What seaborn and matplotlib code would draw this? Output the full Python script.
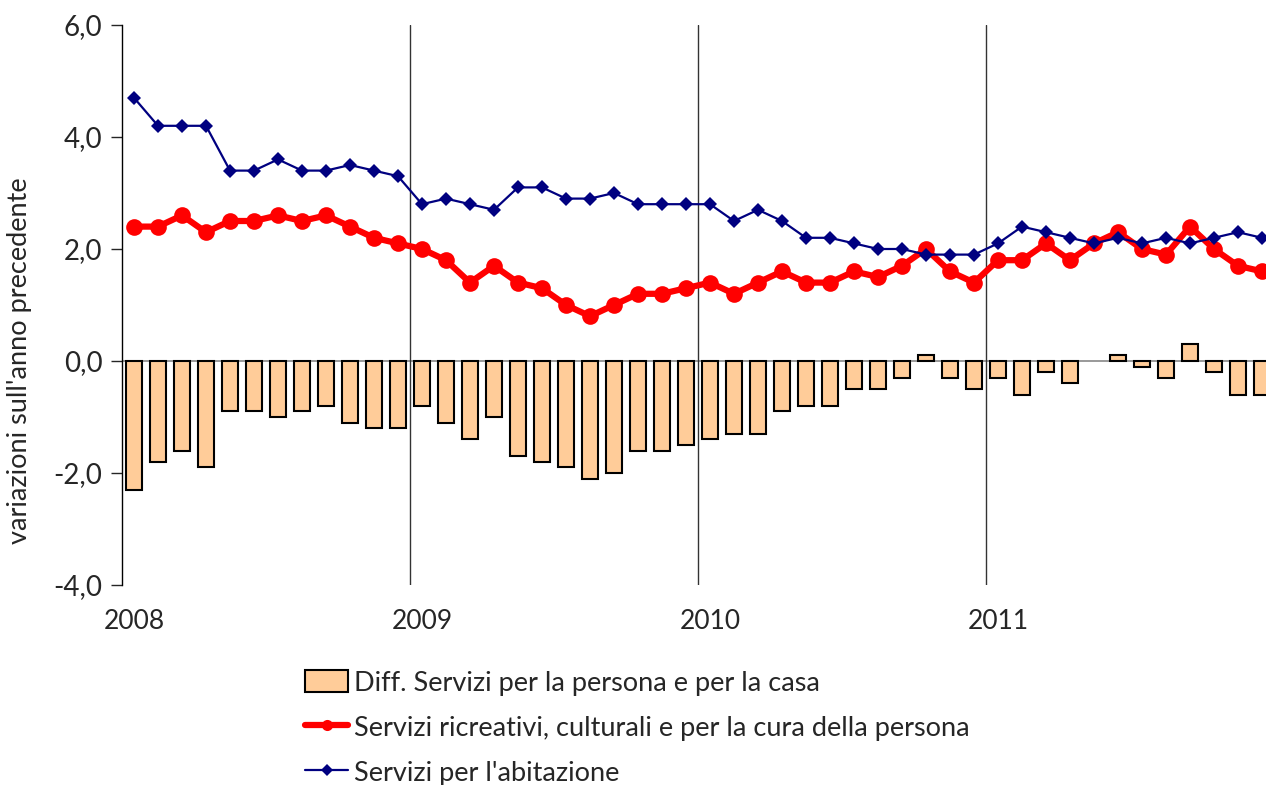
import seaborn as sns
import matplotlib.pyplot as plt
import matplotlib.ticker as mticker
from matplotlib.patches import Patch
from matplotlib.lines import Line2D
import pandas as pd
import numpy as np

years = ["2008", "2009", "2010", "2011"]
ricreativi = [2.4, 2.4, 2.6, 2.3, 2.5, 2.5, 2.6, 2.5, 2.6, 2.4, 2.2, 2.1,
              2.0, 1.8, 1.4, 1.7, 1.4, 1.3, 1.0, 0.8, 1.0, 1.2, 1.2, 1.3,
              1.4, 1.2, 1.4, 1.6, 1.4, 1.4, 1.6, 1.5, 1.7, 2.0, 1.6, 1.4,
              1.8, 1.8, 2.1, 1.8, 2.1, 2.3, 2.0, 1.9, 2.4, 2.0, 1.7, 1.6]
abitazione = [4.7, 4.2, 4.2, 4.2, 3.4, 3.4, 3.6, 3.4, 3.4, 3.5, 3.4, 3.3,
              2.8, 2.9, 2.8, 2.7, 3.1, 3.1, 2.9, 2.9, 3.0, 2.8, 2.8, 2.8,
              2.8, 2.5, 2.7, 2.5, 2.2, 2.2, 2.1, 2.0, 2.0, 1.9, 1.9, 1.9,
              2.1, 2.4, 2.3, 2.2, 2.1, 2.2, 2.1, 2.2, 2.1, 2.2, 2.3, 2.2]
differenza = [-2.3, -1.8, -1.6, -1.9, -0.9, -0.9, -1.0, -0.9, -0.8, -1.1, -1.2, -1.2,
              -0.8, -1.1, -1.4, -1.0, -1.7, -1.8, -1.9, -2.1, -2.0, -1.6, -1.6, -1.5,
              -1.4, -1.3, -1.3, -0.9, -0.8, -0.8, -0.5, -0.5, -0.3, 0.1, -0.3, -0.5,
              -0.3, -0.6, -0.2, -0.4, 0.0, 0.1, -0.1, -0.3, 0.3, -0.2, -0.6, -0.6]

df = pd.DataFrame({
    "mese": np.arange(len(ricreativi)) + 0.5,
    "ricreativi": ricreativi,
    "abitazione": abitazione,
    "diff": differenza,
})

sns.set_style("white")
plt.rcParams["font.family"] = ["Lato", "DejaVu Sans"]

fig = plt.figure(figsize=(12.66, 7.85), dpi=100)
ax = fig.add_axes([122 / 1266, 200 / 785, 1152 / 1266, 560 / 785])

sns.barplot(data=df, x="mese", y="diff", native_scale=True, width=0.65,
            color="#FFCC99", saturation=1, edgecolor="black", linewidth=1.5, ax=ax, zorder=2)
# zero-height bars are not drawn in the original
for p in ax.patches:
    if abs(p.get_height()) < 1e-9:
        p.set_visible(False)
ax.axhline(0, color="#888888", linewidth=1.2, zorder=1)
for i in range(1, len(years)):
    ax.axvline(12 * i, color="#333333", linewidth=1, zorder=1)

sns.lineplot(data=df, x="mese", y="ricreativi", color="#FF0000", linewidth=4.5,
             marker="o", markersize=12, markeredgewidth=0, ax=ax, zorder=4)
sns.lineplot(data=df, x="mese", y="abitazione", color="#000080", linewidth=1.6,
             marker="D", markersize=7, markeredgewidth=0, ax=ax, zorder=5)

ax.set_xlim(0, 48)
ax.set_ylim(-4, 6)
ax.set_yticks([-4, -2, 0, 2, 4, 6])
ax.yaxis.set_major_formatter(mticker.FuncFormatter(lambda v, p: f"{v:.1f}".replace(".", ",")))
ax.set_xticks([12 * i + 0.5 for i in range(len(years))])
ax.set_xticklabels(years)
ax.tick_params(axis="y", direction="out", length=8, width=1, left=True, labelsize=20, pad=6)
ax.tick_params(axis="x", length=0, labelsize=19, pad=17)

for s in ["top", "right", "bottom"]:
    ax.spines[s].set_visible(False)
ax.spines["left"].set_color("black")
ax.spines["left"].set_linewidth(1)

ax.set_xlabel("")
ax.set_ylabel("variazioni sull'anno precedente", fontsize=19.5)
ax.yaxis.set_label_coords(-0.078, 0.4)

handles = [
    Patch(facecolor="#FFCC99", edgecolor="black", linewidth=1.5),
    Line2D([], [], color="#FF0000", linewidth=4.5, marker="o", markersize=8, markeredgewidth=0),
    Line2D([], [], color="#000080", linewidth=1.6, marker="D", markersize=6, markeredgewidth=0),
]
labels = ["Diff. Servizi per la persona e per la casa",
          "Servizi ricreativi, culturali e per la cura della persona",
          "Servizi per l'abitazione"]
fig.legend(handles, labels, loc="upper left", bbox_to_anchor=(305 / 1266, 1 - 670 / 785),
           frameon=False, fontsize=19.5, handlelength=1.6, handleheight=0.9, handletextpad=0.2,
           labelspacing=0.72, borderaxespad=0, borderpad=0)

fig.savefig("out.png", dpi=100)
plt.close(fig)
